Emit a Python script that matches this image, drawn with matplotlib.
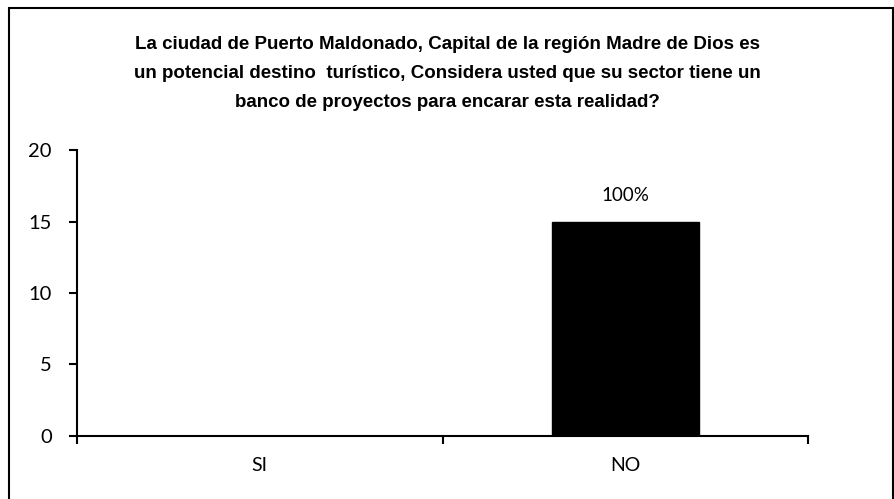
import matplotlib.pyplot as plt
from matplotlib.patches import Rectangle

# Survey answers (number of respondents)
categories = ['SI', 'NO']
counts = [0, 15]
yticks = [0, 5, 10, 15, 20]

title = ('La ciudad de Puerto Maldonado, Capital de la región Madre de Dios es\n'
         'un potencial destino  turístico, Considera usted que su sector tiene un\n'
         'banco de proyectos para encarar esta realidad?')

total = sum(counts)
percents = [c / total for c in counts]

fig = plt.figure(figsize=(8.95, 4.99), dpi=100)
ax = fig.add_axes([0.086, 0.1263, 0.817, 0.573])

x = list(range(len(categories)))
bars = ax.bar(x, counts, width=0.4, color='black', edgecolor='black')

ax.set_xlim(-0.5, len(categories) - 0.5)
ax.set_ylim(0, 20)
ax.set_yticks(yticks)

# category boundary ticks, labels centred under each bar
ax.set_xticks([i - 0.5 for i in range(len(categories) + 1)])
ax.set_xticklabels([])
ax.set_xticks(x, minor=True)
ax.set_xticklabels(categories, minor=True)
ax.tick_params(axis='x', which='minor', length=0, pad=15, labelsize=14)
ax.tick_params(axis='x', which='major', length=6, width=1.5, direction='out')
ax.tick_params(axis='y', length=6, width=1.5, direction='out', pad=12, labelsize=14.5)
for lbl in ax.get_xticklabels(minor=True) + ax.get_yticklabels():
    lbl.set_fontfamily(['Lato', 'DejaVu Sans'])

for side in ['top', 'right']:
    ax.spines[side].set_visible(False)
for side in ['left', 'bottom']:
    ax.spines[side].set_linewidth(1.5)

# percentage labels above non-empty bars
for bar, cnt, pct in zip(bars, counts, percents):
    if cnt > 0:
        ax.text(bar.get_x() + bar.get_width() / 2, cnt + 1.2, f'{pct:.0%}',
                ha='center', va='bottom', fontsize=13.5, family=['Lato', 'DejaVu Sans'])

fig.text(0.5, 0.778, title, ha='center', va='bottom', fontsize=13.5, fontweight='bold',
         linespacing=1.9, family=['Liberation Sans', 'DejaVu Sans'])

# frame around the whole chart
fig.patches.append(Rectangle((9 / 895, -0.02), 884 / 895, 1 - 8 / 499 + 0.02,
                             transform=fig.transFigure, fill=False,
                             edgecolor='black', linewidth=1.5))

plt.savefig('out.png', dpi=100)
